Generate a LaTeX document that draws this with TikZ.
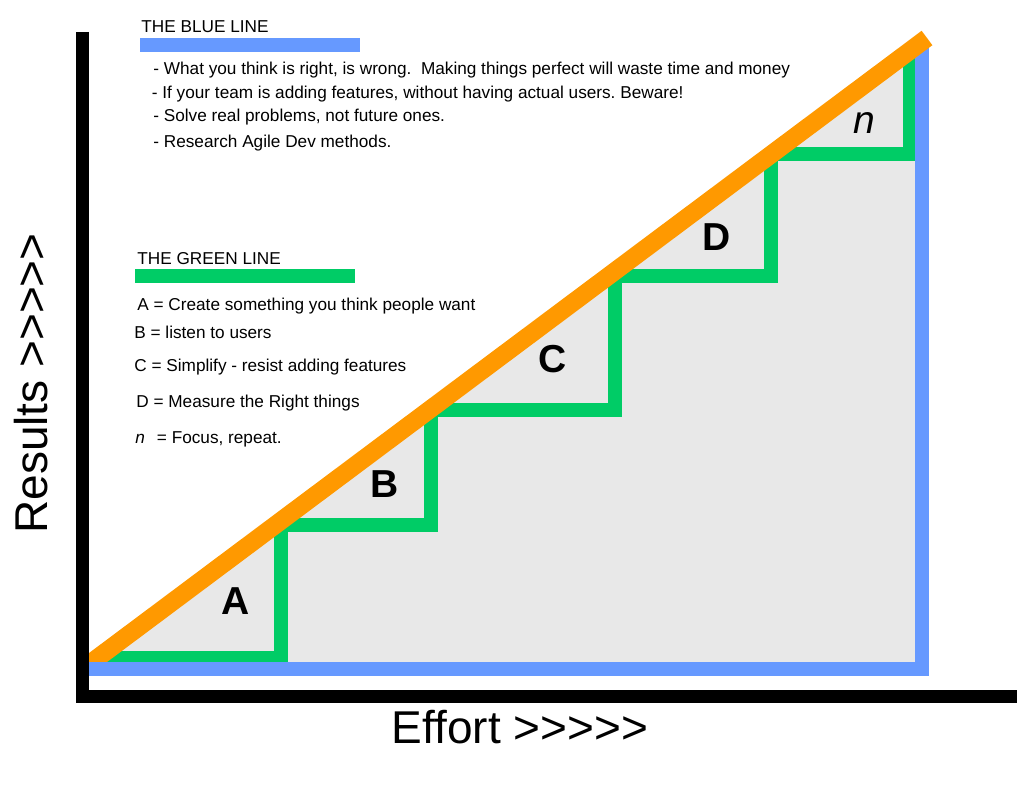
\documentclass[tikz,border=0pt]{standalone}
\usepackage{fontspec}
\setmainfont{Liberation Sans}
\usepackage{xcolor}
\usepackage{tikz}
\usetikzlibrary{positioning}
\definecolor{blueln}{HTML}{6699FF}
\definecolor{orangeln}{HTML}{FF9900}
\definecolor{greenln}{HTML}{00CC66}
\definecolor{fillgray}{HTML}{E8E8E8}
\frenchspacing

\begin{document}
\begin{tikzpicture}[
 x=0.5pt,y=-0.5pt,
 axis/.style={draw=black,line width=6.5pt,line join=miter},
 bline/.style={draw=blueln,line width=7pt,line join=miter},
 gline/.style={draw=greenln,line width=7pt,line join=miter},
 oline/.style={draw=orangeln,line width=9pt},
 head/.style={anchor=base west,inner sep=0pt,font=\fontsize{8.6}{10}\selectfont},
 txt/.style={anchor=base west,inner sep=0pt,font=\fontsize{8.6}{10.5}\selectfont},
 stepl/.style={inner sep=0pt,font=\fontsize{19.5}{22}\selectfont\bfseries},
 axl/.style={inner sep=0pt,font=\fontsize{23}{26}\selectfont}
]
\useasboundingbox (0,0) rectangle (1024,791);
\coordinate (o) at (82.5,696.5);
\coordinate (ytop) at (82.5,32);
\coordinate (xend) at (1017,696.5);
\coordinate (ob) at (84,668);
\coordinate (ot) at (927,38);
\coordinate (bl) at (88,669);
\coordinate (bc) at (922,669);
\coordinate (bt) at (922,45);
\coordinate (g0) at (95,658);
\coordinate (g1) at (281,525);
\coordinate (g2) at (431,410);
\coordinate (g3) at (615,276);
\coordinate (g4) at (771,154);
\coordinate (g5) at (910,45);

\fill[fillgray] (ob) -- (bc) -- (ot) -- cycle;
\begin{scope}
\clip (ob) -- (bc) -- (ot) -- cycle;
\draw[gline] (g0) -| (g1) -| (g2) -| (g3) -| (g4) -| (g5);
\end{scope}
\draw[bline] (bl) -- (bc) -- (bt);
\draw[oline] (ob) -- (ot);
\draw[bline] (bl) -- (bl -| g1);
\draw[axis] (ytop) -- (o) -- (xend);

\node[stepl] (a) at (236,601) {A};
\node[stepl] (b) at (385,484) {B};
\node[stepl] (c) at (553,359) {C};
\node[stepl] (d) at (717,237) {D};
\node[stepl,font=\fontsize{19.5}{22}\selectfont\itshape] (n) at (864,123) {n};

\node[head] (bluehead) at (141,33) {THE BLUE LINE};
\fill[blueln] (140,38) rectangle (360,52);
\node[txt] (b1) at (153,75) {- What you think is right, is wrong.\ \ Making things perfect will waste time and money};
\node[txt] (b2) at (151.5,99) {- If your team is adding features, without having actual users. Beware!};
\node[txt] (b3) at (153,122) {- Solve real problems, not future ones.};
\node[txt] (b4) at (153,148) {- Research Agile Dev methods.};

\node[head] (greenhead) at (137,265) {THE GREEN LINE};
\fill[greenln] (135,269) rectangle (355,283);
\node[txt] (la) at (137,311) {A = Create something you think people want};
\node[txt] (lb) at (134,339) {B = listen to users};
\node[txt] (lc) at (134,372) {C = Simplify - resist adding features};
\node[txt] (ld) at (136,408) {D = Measure the Right things};
\node[txt] (ln) at (135,444) {\textit{n}\hspace{6pt}= Focus, repeat.};

\node[axl,rotate=90] (results) at (31.5,383.5) {Results >{}>{}>{}>{}>};
\node[axl] (effort) at (520,727) {Effort >{}>{}>{}>{}>};
\end{tikzpicture}
\end{document}
